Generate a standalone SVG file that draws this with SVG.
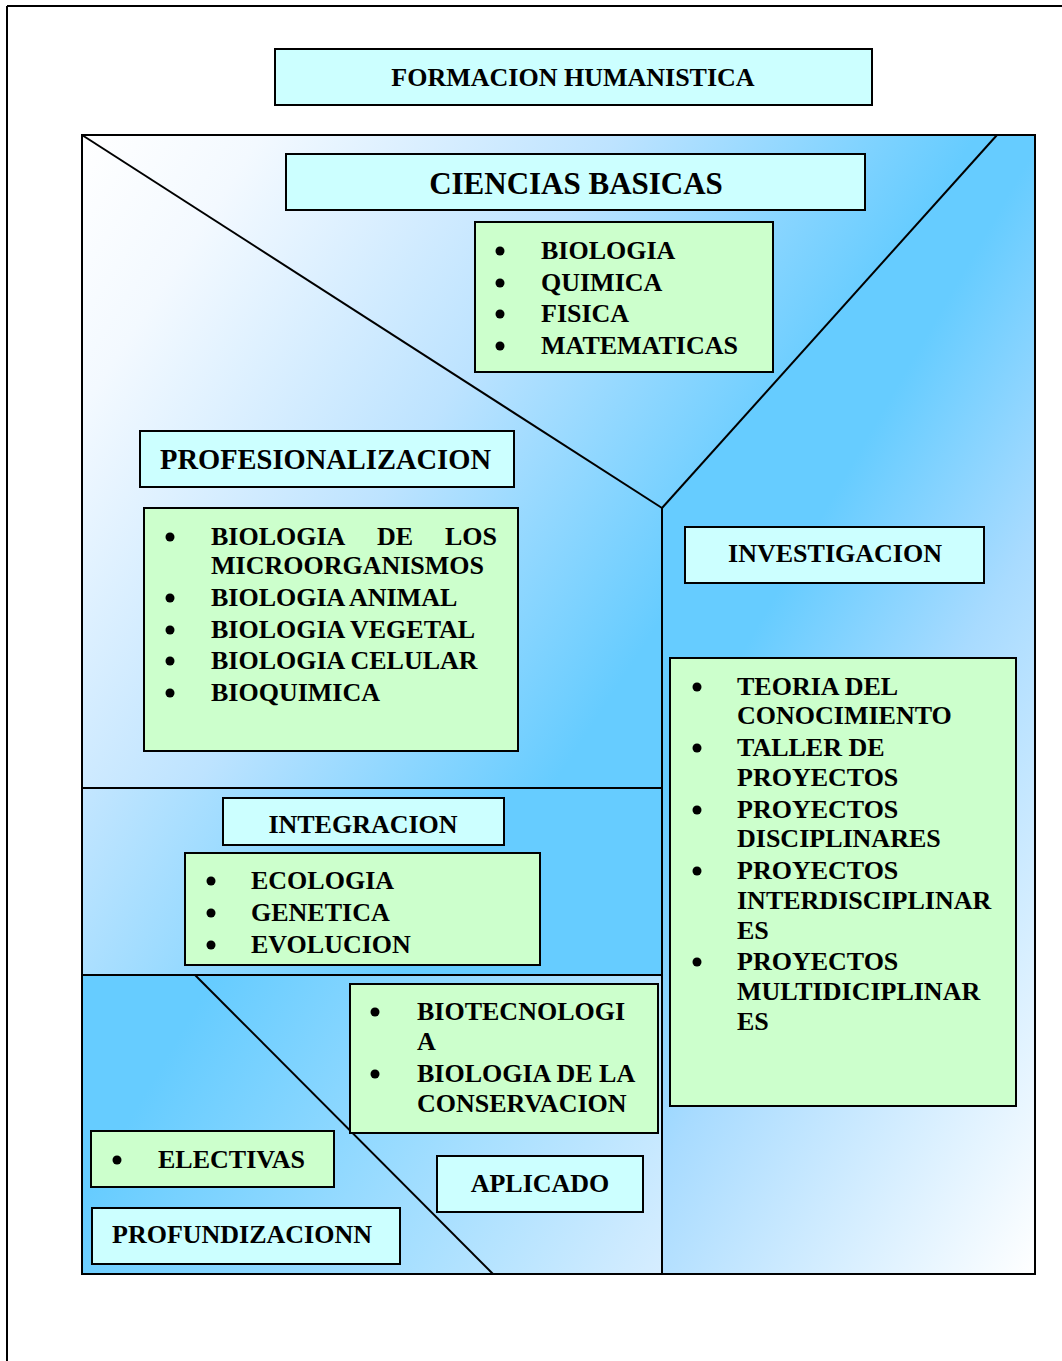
<svg xmlns="http://www.w3.org/2000/svg" width="1062" height="1361" viewBox="0 0 1062 1361">
<style>
  .t { font-family: "Liberation Serif", "Times New Roman", serif; font-weight: bold; font-size: 26px; fill: #000; }
  .c { text-anchor: middle; }
  .title { fill: #CCFFFF; stroke: #000; stroke-width: 2; }
  .list { fill: #CCFFCC; stroke: #000; stroke-width: 2; }
  .ln { stroke: #000; stroke-width: 2; fill: none; }
  .dot { fill: #000; }
</style>
<defs>
  <linearGradient id="gTop" gradientUnits="userSpaceOnUse" x1="82" y1="135" x2="710" y2="545">
    <stop offset="0" stop-color="#ffffff"/>
    <stop offset="0.2" stop-color="#f3f9ff"/>
    <stop offset="0.6" stop-color="#bde3ff"/>
    <stop offset="1" stop-color="#66ccff"/>
  </linearGradient>
  <linearGradient id="gRight" gradientUnits="userSpaceOnUse" x1="662" y1="508" x2="1274" y2="864">
    <stop offset="0" stop-color="#66ccff"/>
    <stop offset="0.2" stop-color="#66ccff"/>
    <stop offset="0.47" stop-color="#a8dbff"/>
    <stop offset="1" stop-color="#ffffff"/>
  </linearGradient>
  <linearGradient id="gInt" gradientUnits="userSpaceOnUse" x1="82" y1="788" x2="400" y2="975">
    <stop offset="0" stop-color="#c4e6ff"/>
    <stop offset="1" stop-color="#66ccff"/>
  </linearGradient>
  <linearGradient id="gBot" gradientUnits="userSpaceOnUse" x1="200" y1="1000" x2="662" y2="1274">
    <stop offset="0" stop-color="#66ccff"/>
    <stop offset="1" stop-color="#d6edff"/>
  </linearGradient>
</defs>

<g id="page-border">
  <line class="ln" x1="7" y1="6" x2="1062" y2="6"/>
  <line class="ln" x1="7" y1="6" x2="7" y2="1361"/>
</g>

<g id="regions">
  <polygon fill="url(#gTop)" points="82,135 997,135 662,508 662,788 82,788"/>
  <polygon fill="url(#gRight)" points="997,135 1035,135 1035,1274 662,1274 662,508"/>
  <rect fill="url(#gInt)" x="82" y="788" width="580" height="187"/>
  <polygon fill="url(#gBot)" points="82,975 662,975 662,1274 82,1274"/>
</g>

<g id="connectors">
  <rect class="ln" x="82" y="135" width="953" height="1139"/>
  <line class="ln" x1="82" y1="135" x2="662" y2="508"/>
  <line class="ln" x1="997" y1="135" x2="662" y2="508"/>
  <line class="ln" x1="662" y1="508" x2="662" y2="1274"/>
  <line class="ln" x1="82" y1="788" x2="662" y2="788"/>
  <line class="ln" x1="82" y1="975" x2="662" y2="975"/>
  <line class="ln" x1="195" y1="975" x2="493" y2="1274"/>
</g>

<g id="formacion-humanistica">
  <rect class="title" x="275" y="49" width="597" height="56"/>
  <text class="t c" x="573" y="86">FORMACION HUMANISTICA</text>
</g>

<g id="ciencias-basicas">
  <rect class="title" x="286" y="154" width="579" height="56"/>
  <text class="t c" x="576" y="194" style="font-size:31px">CIENCIAS BASICAS</text>
</g>

<g id="ciencias-list">
  <rect class="list" x="475" y="222" width="298" height="150"/>
  <circle class="dot" cx="500" cy="251" r="4.5"/>
  <circle class="dot" cx="500" cy="283" r="4.5"/>
  <circle class="dot" cx="500" cy="314" r="4.5"/>
  <circle class="dot" cx="500" cy="346" r="4.5"/>
  <text class="t" x="541" y="259">BIOLOGIA</text>
  <text class="t" x="541" y="291">QUIMICA</text>
  <text class="t" x="541" y="322">FISICA</text>
  <text class="t" x="541" y="354">MATEMATICAS</text>
</g>

<g id="profesionalizacion">
  <rect class="title" x="140" y="431" width="374" height="56"/>
  <text class="t" x="160" y="469" style="font-size:28.5px">PROFESIONALIZACION</text>
</g>

<g id="profesionalizacion-list">
  <rect class="list" x="144" y="508" width="374" height="243"/>
  <circle class="dot" cx="170" cy="537" r="4.5"/>
  <circle class="dot" cx="170" cy="598" r="4.5"/>
  <circle class="dot" cx="170" cy="630" r="4.5"/>
  <circle class="dot" cx="170" cy="661" r="4.5"/>
  <circle class="dot" cx="170" cy="693" r="4.5"/>
  <text class="t" x="211" y="545">BIOLOGIA</text>
  <text class="t" x="377" y="545">DE</text>
  <text class="t" x="497" y="545" text-anchor="end">LOS</text>
  <text class="t" x="211" y="574">MICROORGANISMOS</text>
  <text class="t" x="211" y="606">BIOLOGIA ANIMAL</text>
  <text class="t" x="211" y="638">BIOLOGIA VEGETAL</text>
  <text class="t" x="211" y="669">BIOLOGIA CELULAR</text>
  <text class="t" x="211" y="701">BIOQUIMICA</text>
</g>

<g id="investigacion">
  <rect class="title" x="685" y="527" width="299" height="56"/>
  <text class="t c" x="835" y="562">INVESTIGACION</text>
</g>

<g id="investigacion-list">
  <rect class="list" x="670" y="658" width="346" height="448"/>
  <circle class="dot" cx="697" cy="687" r="4.5"/>
  <circle class="dot" cx="697" cy="748" r="4.5"/>
  <circle class="dot" cx="697" cy="810" r="4.5"/>
  <circle class="dot" cx="697" cy="871" r="4.5"/>
  <circle class="dot" cx="697" cy="962" r="4.5"/>
  <text class="t" x="737" y="695">TEORIA DEL</text>
  <text class="t" x="737" y="724">CONOCIMIENTO</text>
  <text class="t" x="737" y="756">TALLER DE</text>
  <text class="t" x="737" y="786">PROYECTOS</text>
  <text class="t" x="737" y="818">PROYECTOS</text>
  <text class="t" x="737" y="847">DISCIPLINARES</text>
  <text class="t" x="737" y="879">PROYECTOS</text>
  <text class="t" x="737" y="909">INTERDISCIPLINAR</text>
  <text class="t" x="737" y="939">ES</text>
  <text class="t" x="737" y="970">PROYECTOS</text>
  <text class="t" x="737" y="1000">MULTIDICIPLINAR</text>
  <text class="t" x="737" y="1030">ES</text>
</g>

<g id="integracion">
  <rect class="title" x="223" y="798" width="281" height="47"/>
  <text class="t c" x="363" y="833">INTEGRACION</text>
</g>

<g id="integracion-list">
  <rect class="list" x="185" y="853" width="355" height="112"/>
  <circle class="dot" cx="211" cy="881" r="4.5"/>
  <circle class="dot" cx="211" cy="913" r="4.5"/>
  <circle class="dot" cx="211" cy="945" r="4.5"/>
  <text class="t" x="251" y="889">ECOLOGIA</text>
  <text class="t" x="251" y="921">GENETICA</text>
  <text class="t" x="251" y="953">EVOLUCION</text>
</g>

<g id="aplicado-list">
  <rect class="list" x="350" y="984" width="308" height="149"/>
  <circle class="dot" cx="375" cy="1012" r="4.5"/>
  <circle class="dot" cx="375" cy="1074" r="4.5"/>
  <text class="t" x="417" y="1020">BIOTECNOLOGI</text>
  <text class="t" x="417" y="1050">A</text>
  <text class="t" x="417" y="1082">BIOLOGIA DE LA</text>
  <text class="t" x="417" y="1112">CONSERVACION</text>
</g>

<g id="electivas">
  <rect class="list" x="91" y="1131" width="243" height="56"/>
  <circle class="dot" cx="117" cy="1160" r="4.5"/>
  <text class="t" x="158" y="1168">ELECTIVAS</text>
</g>

<g id="aplicado">
  <rect class="title" x="437" y="1156" width="206" height="56"/>
  <text class="t c" x="540" y="1192">APLICADO</text>
</g>

<g id="profundizacion">
  <rect class="title" x="92" y="1208" width="308" height="56"/>
  <text class="t" x="112" y="1243">PROFUNDIZACIONN</text>
</g>
</svg>
